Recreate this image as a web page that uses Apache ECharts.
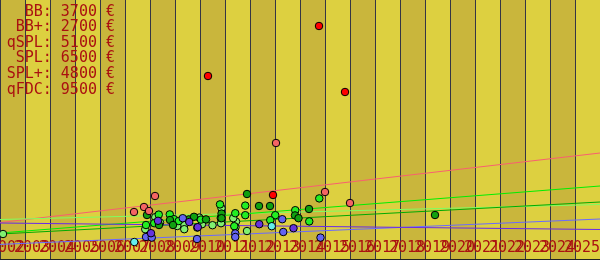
<!DOCTYPE html>
<html><head><meta charset="utf-8">
<script src="https://cdn.jsdelivr.net/npm/echarts@6/dist/echarts.min.js"></script>
<style>html,body{margin:0;padding:0;background:#fff}#c{width:600px;height:260px}</style>
</head><body><div id="c"></div>
<script>
// ---- data ----
const tickLabels = ['2002','2003','2004','2005','2006','2007','2008','2009','2010','2011','2012','2013',
  '2014','2015','2016','2017','2018','2019','2020','2021','2022','2023','2024','2025'];
const legendNames = ['BB','BB+','qSPL','SPL','SPL+','qFDC'];
const legendPrices = [3700, 2700, 5100, 6500, 4800, 9500];

const redPts = [[2014.76,11700],[2010.32,9200],[2015.80,8400],[2012.92,3250]];
const salmonPts = [[2013.04,5850],[2015.00,3400],[2008.20,3200],[2016.00,2850],[2007.76,2650],[2007.36,2400],[2007.96,2450]];
const darkGreenPts = [[2019.40,2250],[2007.88,2250],[2011.88,3300],[2012.36,2700],[2012.80,2700],[2014.36,2550],
  [2013.80,2230],[2013.94,2090],[2010.24,2030],[2010.86,2320],[2009.55,2030],[2009.76,2160],[2008.80,2000],
  [2008.36,1750],[2008.92,1750],[2010.86,2090]];
const greenPts = [[2007.84,1750],[2008.17,1840],[2008.35,2270],[2008.79,2280],[2008.96,2040],[2009.15,1950],
  [2010.80,2780],[2011.81,2720],[2011.41,2340],[2010.83,2100],[2010.04,2020],[2011.37,1690],[2013.01,2240],
  [2013.81,2490],[2012.81,1990],[2014.37,1930],[2014.77,3080],[2011.81,2240]];
const lightGreenPts = [[2002.12,1300],[2008.21,2140],[2007.81,1540],[2009.21,1950],[2009.37,1740],[2009.37,1540],
  [2009.97,2120],[2009.09,1700],[2010.86,2590],[2010.50,1740],[2010.84,1840],[2011.44,1920],[2011.88,1450],
  [2010.08,1790],[2011.33,2090],[2008.40,1870],[2011.42,1640]];
const bluePts = [[2007.84,1150],[2008.07,1120],[2009.31,2090],[2009.88,1050],[2009.89,1620],[2011.41,1330],
  [2011.41,1150],[2013.33,1400],[2013.29,2040],[2014.82,1120]];
const purplePts = [[2008.04,1340],[2008.32,1960],[2009.57,1900],[2009.91,1640],[2012.37,1790],[2013.74,1590]];
const cyanPts = [[2007.37,900],[2012.87,1690]];

const pinkTrend = [[2002,1875],[2026,5350]];
const lightGreenTrend = [[2002,2025],[2026,2775]];
const greenTrend = [[2002,1350],[2026,3700]];
const darkGreenTrend = [[2002,1300],[2026,2900]];
const blueTrend = [[2002,780],[2026,2050]];
const purpleTrend = [[2002,1850],[2026,1525]];

// ---- chart ----
const chart = echarts.init(document.getElementById('c'), null, {renderer:'canvas'});
const mono = "'DejaVu Sans Mono', monospace";
const legendText = legendNames.map((n,i)=>n+': '+legendPrices[i]+' €').join('\n');

function line(data,color){
  return {type:'line',data,symbol:'none',silent:true,z:2,lineStyle:{color,width:1},animation:false};
}
function pts(data,color){
  return {type:'scatter',data,symbol:'circle',symbolSize:7.5,z:5,
    itemStyle:{color,borderColor:'#000',borderWidth:1,opacity:1},animation:false};
}

chart.setOption({
  animation:false,
  backgroundColor:'#ddd040',
  grid:{left:-25,right:0,top:0,bottom:0,containLabel:false,outerBoundsMode:'none'},
  xAxis:{type:'value',min:2001,max:2026,interval:1,
    axisLine:{show:true,lineStyle:{color:'#222',width:2}},
    axisTick:{show:false},
    splitLine:{show:true,lineStyle:{color:'#353545',width:1}},
    splitArea:{show:true,areaStyle:{color:['#ddd040','#c9b63c']}},
    axisLabel:{show:true,inside:true,margin:4,color:'#aa1111',fontFamily:mono,fontSize:15,
      align:'center',padding:[0,0,0,14],hideOverlap:false,
      formatter:v=>{const i=Math.round(v-2002);return tickLabels[i]||'';}}
  },
  yAxis:{type:'value',min:0,max:13000,show:false,splitLine:{show:false}},
  graphic:[{type:'text',x:115,y:4,z:100,
    style:{text:legendText,align:'right',verticalAlign:'top',font:'15px '+mono,
      fill:'#aa1111',lineHeight:15.6}}],
  series:[
    line(pinkTrend,'#f86070'),
    line(lightGreenTrend,'#80ff60'),
    line(greenTrend,'#00ee00'),
    line(darkGreenTrend,'#00aa00'),
    line(blueTrend,'#6a6aff'),
    line(purpleTrend,'#6a2ae8'),
    pts(lightGreenPts,'#80f070'),
    pts(greenPts,'#22ee22'),
    pts(darkGreenPts,'#10a010'),
    pts(bluePts,'#6464f0'),
    pts(purplePts,'#6633dd'),
    pts(cyanPts,'#66eeee'),
    pts(salmonPts,'#f46464'),
    pts(redPts,'#ff0000')
  ]
});
</script></body></html>
